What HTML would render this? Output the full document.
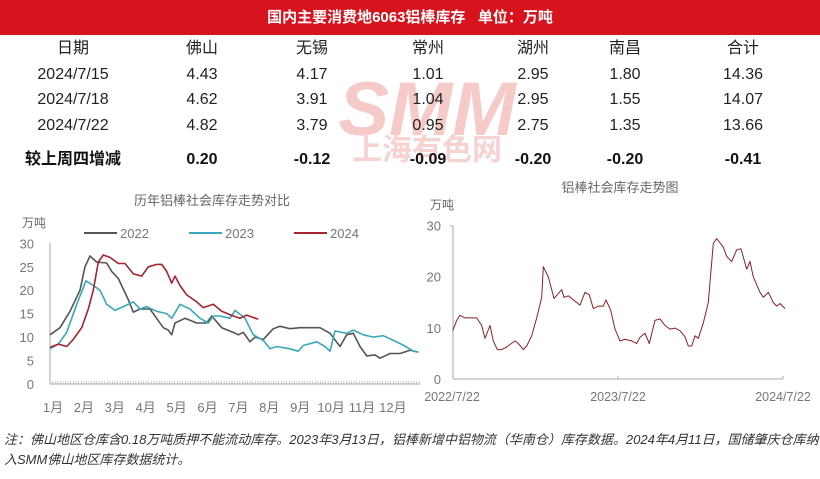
<!DOCTYPE html>
<html><head><meta charset="utf-8">
<style>
body{margin:0;width:820px;height:479px;background:#fff;overflow:hidden;font-family:"Liberation Sans","Noto Sans CJK SC",sans-serif;position:relative}
.bar{position:absolute;left:0;top:0;width:820px;height:35px;background:#d7141e;color:#fff;font-weight:bold;font-size:15px;text-align:center;line-height:35px}
.c{position:absolute;font-size:16px;line-height:18px;color:#222;transform:translateX(-50%);white-space:nowrap}
.b{font-weight:bold;font-size:16px;color:#111}
.note{position:absolute;left:4px;font-size:13px;color:#333;font-style:italic;white-space:nowrap}
svg{position:absolute;left:0;top:0}
#tbl{position:absolute;left:0;top:0;z-index:2}
</style></head><body>
<div class="bar">国内主要消费地6063铝棒库存&nbsp;&nbsp;&nbsp;单位：万吨</div>
<svg width="820" height="479" id="s" font-family="Liberation Sans, Noto Sans CJK SC, sans-serif">
<text x="427" y="135" font-size="76" font-weight="bold" font-style="italic" fill="#f7caca" text-anchor="middle">SMM</text>
<text x="427" y="160" font-size="30" font-weight="bold" fill="#f7d2d2" text-anchor="middle">上海有色网</text>
<text x="212" y="205" font-size="13" fill="#666" text-anchor="middle">历年铝棒社会库存走势对比</text>
<text x="22" y="227" font-size="12" fill="#666">万吨</text>
<text x="620" y="192" font-size="13" fill="#666" text-anchor="middle">铝棒社会库存走势图</text>
<text x="430" y="209" font-size="12" fill="#666">万吨</text>
<g stroke-width="2"><line x1="84" y1="233" x2="117" y2="233" stroke="#555"/><line x1="189" y1="233" x2="222" y2="233" stroke="#3aa8b8"/><line x1="294" y1="233" x2="327" y2="233" stroke="#a32530"/></g>
<g font-size="13" fill="#777"><text x="120" y="238">2022</text><text x="225" y="238">2023</text><text x="330" y="238">2024</text></g>
<g id="lc"></g>
</svg>
<div id="tbl"></div>
<div class="note" style="top:429px">注：佛山地区仓库含0.18万吨质押不能流动库存。2023年3月13日，铝棒新增中铝物流（华南仓）库存数据。2024年4月11日，国储肇庆仓库纳</div>
<div class="note" style="top:449px">入SMM佛山地区库存数据统计。</div>
<script>
var cols=[73,202,312,428,533,625,743];
var rows=[["日期","佛山","无锡","常州","湖州","南昌","合计"],
["2024/7/15","4.43","4.17","1.01","2.95","1.80","14.36"],
["2024/7/18","4.62","3.91","1.04","2.95","1.55","14.07"],
["2024/7/22","4.82","3.79","0.95","2.75","1.35","13.66"],
["较上周四增减","0.20","-0.12","-0.09","-0.20","-0.20","-0.41"]];
var ys=[40,66,91,117,151],h="";
rows.forEach(function(r,i){r.forEach(function(t,j){h+='<div class="c'+(i==4?' b':'')+'" style="left:'+cols[j]+'px;top:'+ys[i]+'px">'+t+'</div>';});});
document.getElementById('tbl').innerHTML=h;
var g="";
g+='<g stroke="#aaa" stroke-width="1" fill="none"><line x1="50" y1="243" x2="50" y2="384"/><line x1="50" y1="384" x2="420" y2="384"/></g>';
for(var v=0;v<=30;v+=5){var y=384-v*4.69;g+='<text x="34" y="'+(y+5)+'" font-size="13" fill="#777" text-anchor="end">'+v+'</text>';}
for(var x=50;x<=420;x+=2.6){g+='<line x1="'+x+'" y1="384" x2="'+x+'" y2="381" stroke="#aaa" stroke-width="0.6"/>';}
var ml=["1月","2月","3月","4月","5月","6月","7月","8月","9月","10月","11月","12月"];
ml.forEach(function(m,i){g+='<text x="'+(53+i*30.9)+'" y="412" font-size="13" fill="#777" text-anchor="middle">'+m+'</text>';});
function pl(a,sx,y0,k,c,w){var p=[];for(var i=0;i<a.length;i+=2)p.push((a[i]*sx).toFixed(1)+","+(y0-a[i+1]*k).toFixed(1));return '<polyline fill="none" stroke="'+c+'" stroke-width="'+w+'" stroke-linejoin="round" points="'+p.join(" ")+'"/>';}
var d22=[150,10.5,180,12,210,15.5,240,20,255,25,270,27.3,290,26,320,25.8,335,24,355,22.5,385,18,400,15.3,420,16,450,16,475,13.5,490,12,505,11.5,515,10.5,525,13,555,14,590,13,620,13,635,14.5,665,12,700,11,715,10.5,730,11,750,9,765,10,790,9.5,820,11.8,840,12.3,870,11.8,900,12,930,12,960,12,990,10.8,1020,8,1040,10.5,1060,10.8,1080,8,1100,6,1125,6.2,1140,5.5,1170,6.5,1200,6.5,1230,7.2,1255,6.8];
var d23=[150,7.5,175,8.5,200,11,230,17,258,22,280,21,300,20,320,17,345,15.7,370,16.5,400,17.5,420,16,440,16.5,470,15.5,500,15,515,14,540,17,570,16,600,14,625,13,640,14.5,660,14.5,690,14,705,15.7,735,14,760,10.5,790,9.3,810,7.5,830,8,870,7.5,895,7,910,8.2,950,9,975,8,990,7,1005,11.3,1040,10.8,1060,11.5,1090,10.5,1120,10,1150,10.3,1180,9.3,1210,8.3,1240,7,1255,6.8];
var d24=[150,7.8,175,8.5,200,8,220,9.5,245,12,265,16,280,20,295,26,310,27.5,330,27,355,25.7,375,25.7,400,23.5,425,23,445,25,470,25.5,485,25.5,500,24,515,21.5,525,23,540,21,560,19,590,17.5,610,16.3,640,17,665,15.5,700,14.5,720,14,740,14.7,775,13.8];
g+=pl(d22,1/3,384,4.69,"#555",1.6)+pl(d23,1/3,384,4.69,"#3aa8b8",1.6)+pl(d24,1/3,384,4.69,"#a32530",1.6);
g+='<g stroke="#aaa" stroke-width="1" fill="none"><line x1="453" y1="226" x2="453" y2="379"/><line x1="450" y1="226" x2="453" y2="226"/><line x1="453" y1="379" x2="783" y2="379"/><line x1="618" y1="379" x2="618" y2="376"/><line x1="783" y1="379" x2="783" y2="376"/></g>';
[0,10,20,30].forEach(function(v){g+='<text x="441" y="'+(379-v*5.12+5)+'" font-size="13" fill="#777" text-anchor="end">'+v+'</text>';});
g+='<g font-size="12.5" fill="#777" text-anchor="middle"><text x="452" y="401">2022/7/22</text><text x="618" y="401">2023/7/22</text><text x="783" y="401">2024/7/22</text></g>';
var dr=[128,9.5,140,11.5,150,12.5,165,12,180,12,200,12,215,10.5,225,8,240,10.5,250,7.5,262,5.8,275,5.8,290,6.3,300,6.8,315,7.5,325,7,340,5.8,350,6.5,365,8.5,380,12,395,16,400,22,415,20,432,15.8,455,17.5,462,16,475,16.3,500,15,510,14.5,525,17,538,16.5,550,13.8,565,14.3,580,14.3,588,15.5,602,13.5,615,9.8,630,7.5,645,7.8,665,7.5,680,7,690,8.2,705,9,718,7,735,11.5,750,11.8,765,10.5,780,9.8,795,10,810,9.5,825,8.3,835,6.5,845,6.5,855,8.5,865,8,880,11,895,15,910,26.5,920,27.5,940,25.8,950,24,965,23,980,25.3,993,25.5,1010,21.5,1020,23,1030,20,1050,17,1060,16,1075,17,1090,15,1100,14.3,1110,14.8,1125,13.8];
for(var i=0;i<dr.length;i+=2)dr[i]=dr[i]+1230;
g+=pl(dr,1/3,379.3,5.12,"#8a1f28",1);
document.getElementById('lc').innerHTML=g;
</script>
</body></html>
